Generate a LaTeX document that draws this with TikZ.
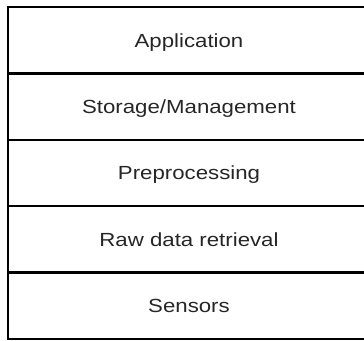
\documentclass[tikz,border=0pt]{standalone}
\usepackage{fontspec}
\setmainfont{Liberation Sans}[FakeStretch=1.17]
\begin{document}
\begin{tikzpicture}[x=1pt,y=-1pt,
  layer/.style={draw=black, line width=2.4pt, minimum width=362pt, minimum height=66.4pt,
    inner sep=0pt, text height=13.6pt, text depth=0pt, text=black!85,
    font=\fontsize{19pt}{22pt}\selectfont}]
\useasboundingbox (0,0) rectangle (364,340);
\clip (0,0) rectangle (364,340);
\node[layer] (app) at (189,40.2) {Application};
\node[layer] (stor) at (189,106.6) {Storage/Management};
\node[layer] (pre) at (189,173.0) {Preprocessing};
\node[layer] (raw) at (189,239.4) {Raw data retrieval};
\node[layer] (sens) at (189,305.8) {Sensors};
\end{tikzpicture}
\end{document}
